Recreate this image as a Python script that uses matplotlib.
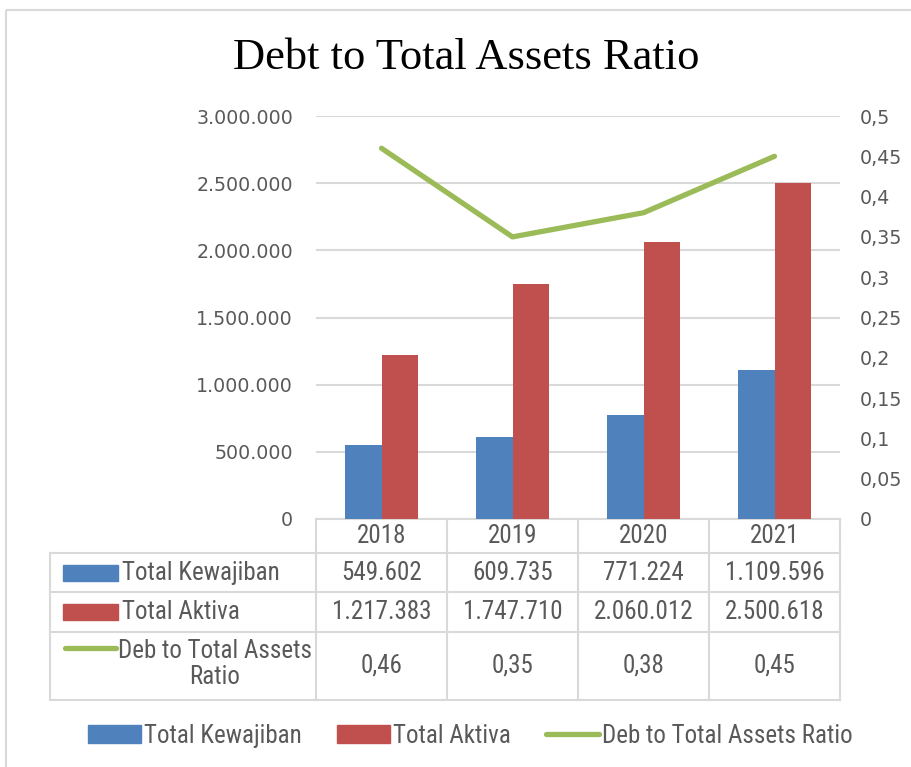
import numpy as np
import matplotlib.pyplot as plt
from matplotlib.patches import Rectangle, Patch
from matplotlib.lines import Line2D
import matplotlib.transforms as mtransforms

years = ['2018', '2019', '2020', '2021']
kewajiban = [549602, 609735, 771224, 1109596]
aktiva = [1217383, 1747710, 2060012, 2500618]
ratio = [0.46, 0.35, 0.38, 0.45]
kewajiban_txt = ['549.602', '609.735', '771.224', '1.109.596']
aktiva_txt = ['1.217.383', '1.747.710', '2.060.012', '2.500.618']
ratio_txt = ['0,46', '0,35', '0,38', '0,45']

BLUE = '#4F81BD'
RED = '#C0504D'
GREEN = '#9BBB59'
GRID = '#D9D9D9'
TXT = '#595959'
W, H = 911, 767
TFONT = ['Roboto Condensed', 'Lato', 'DejaVu Sans']
TSIZE = 18

fig = plt.figure(figsize=(W / 100, H / 100), dpi=100)

# overlay in pixel coordinates for frame and table
over = fig.add_axes([0, 0, 1, 1])
over.set_xlim(0, W)
over.set_ylim(H, 0)
over.axis('off')
over.add_patch(Rectangle((6, 10), 1000, 1000, fill=False, ec=GRID, lw=1.5))

ax = fig.add_axes([316 / W, (H - 519) / H, 524 / W, 403 / H])
ax2 = ax.twinx()
x = np.arange(len(years))
bw = 0.28
ax.bar(x - bw / 2, kewajiban, bw, color=BLUE, zorder=3)
ax.bar(x + bw / 2, aktiva, bw, color=RED, zorder=3)
ax2.plot(x, ratio, color=GREEN, lw=3.8, solid_capstyle='round', zorder=4)

ax.set_xlim(-0.5, 3.5)
ax.set_ylim(0, 3000000)
ax.set_yticks(np.arange(0, 3000001, 500000))
ax.set_yticklabels([f'{int(v):,}'.replace(',', '.') for v in ax.get_yticks()])
ax2.set_ylim(0, 0.5)
rt = np.arange(0, 0.5001, 0.05)
ax2.set_yticks(rt)
ax2.set_yticklabels(['0' if v == 0 else f'{v:.2f}'.rstrip('0').replace('.', ',') for v in rt])
ax.set_xticks([])
ax.grid(axis='y', color=GRID, lw=1.5, zorder=0)
for a in (ax, ax2):
    for s in a.spines.values():
        s.set_visible(False)
    a.tick_params(length=0, labelsize=13.7, labelcolor=TXT)
    a.patch.set_alpha(0)
ax.tick_params(axis='y', pad=16.5)
ax2.tick_params(axis='y', pad=14.5)

fig.text(466 / W, 1 - 58 / H, 'Debt to Total Assets Ratio', ha='center', va='center',
         fontsize=32, family='Liberation Serif', color='black')

# data table below the plot
rows = [519, 553, 592, 632, 700]
edges = ax.transData.transform([(v, 0) for v in np.arange(-0.5, 4.0, 1.0)])[:, 0]
x_left = 50
over.plot([edges[0], edges[-1]], [rows[0]] * 2, color=GRID, lw=1.5)
for r in rows[1:]:
    over.plot([x_left, edges[-1]], [r, r], color=GRID, lw=1.5)
for e in edges:
    over.plot([e, e], [rows[0], rows[-1]], color=GRID, lw=1.5)
over.plot([x_left, x_left], [rows[1], rows[-1]], color=GRID, lw=1.5)

bt = mtransforms.blended_transform_factory(ax.transData, over.transData)
cells = [years, kewajiban_txt, aktiva_txt, ratio_txt]
for ri, vals in enumerate(cells):
    yc = (rows[ri] + rows[ri + 1]) / 2
    for xi, t in zip(x, vals):
        over.text(xi, yc, t, transform=bt, ha='center', va='center',
                  fontsize=TSIZE, family=TFONT, color=TXT)

over.add_patch(Rectangle((63, 565), 55, 16, color=BLUE))
over.text(122, 573, 'Total Kewajiban', va='center', fontsize=TSIZE, family=TFONT, color=TXT)
over.add_patch(Rectangle((63, 604), 55, 16, color=RED))
over.text(122, 612, 'Total Aktiva', va='center', fontsize=TSIZE, family=TFONT, color=TXT)
over.plot([65, 116], [648, 648], color=GREEN, lw=3.8, solid_capstyle='round')
over.text(215, 664, 'Deb to Total Assets\nRatio', ha='center', va='center', fontsize=TSIZE,
          family=TFONT, color=TXT, linespacing=1.15)

handles = [Patch(color=BLUE), Patch(color=RED),
           Line2D([], [], color=GREEN, lw=3.8, solid_capstyle='round')]
labels = ['Total Kewajiban', 'Total Aktiva', 'Deb to Total Assets Ratio']
fig.legend(handles, labels, loc='center', bbox_to_anchor=(470 / W, 1 - 736 / H), ncol=3,
           frameon=False, handlelength=2.12, handleheight=0.72, handletextpad=0.12,
           columnspacing=1.4, labelcolor=TXT, prop={'family': TFONT, 'size': TSIZE})

fig.savefig('out.png', dpi=100, facecolor='white')
